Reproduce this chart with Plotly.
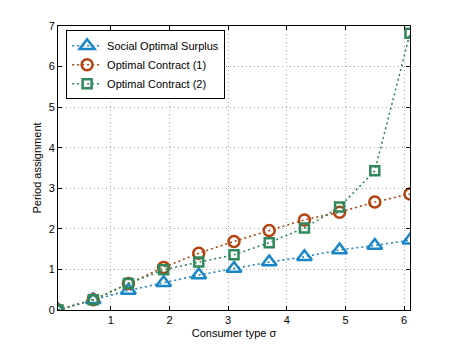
import plotly.graph_objects as go

x_vals = [0.1, 0.7, 1.3, 1.9, 2.5, 3.1, 3.7, 4.3, 4.9, 5.5, 6.1]
social_optimal = [0.0, 0.25, 0.48, 0.67, 0.86, 1.02, 1.18, 1.31, 1.48, 1.59, 1.72]
contract_1 = [0.0, 0.25, 0.65, 1.05, 1.40, 1.69, 1.96, 2.22, 2.41, 2.66, 2.86]
contract_2 = [0.0, 0.25, 0.65, 0.99, 1.18, 1.36, 1.66, 2.02, 2.54, 3.43, 6.82]

x_ticks = [1, 2, 3, 4, 5, 6]
y_ticks = [0, 1, 2, 3, 4, 5, 6, 7]

series = [
    ("Social Optimal Surplus", social_optimal, "#1a86c8", "triangle-up-open", 13),
    ("Optimal Contract (1)", contract_1, "#b5420e", "circle-open", 11),
    ("Optimal Contract (2)", contract_2, "#2e8a5c", "square-open", 9),
]

fig = go.Figure()
for name, ys, color, sym, size in series:
    fig.add_trace(go.Scatter(
        x=x_vals, y=ys, name=name, mode="lines+markers",
        line=dict(color=color, width=1.6, dash="2px,3px"),
        marker=dict(symbol=sym, size=size, color=color, line=dict(color=color, width=2.5)),
    ))

axis_common = dict(
    showline=True, linecolor="black", linewidth=1, mirror="allticks",
    ticks="inside", ticklen=4, tickcolor="black",
    showgrid=True, gridcolor="#a8a8a8", griddash="1px,3px", gridwidth=1,
    zeroline=False,
    tickfont=dict(family="Liberation Sans, Arial", size=11, color="black"),
)

fig.update_layout(
    width=452, height=349,
    margin=dict(l=50, r=50, t=18, b=47),
    paper_bgcolor="white", plot_bgcolor="white",
    font=dict(family="Liberation Sans, Arial", size=11, color="black"),
    xaxis=dict(range=[0.1, 6.1], tickvals=x_ticks,
               title=dict(text="Consumer type σ", font=dict(size=11), standoff=4),
               **axis_common),
    yaxis=dict(range=[-0.0005, 7.0005], tickvals=y_ticks,
               title=dict(text="Period assignment", font=dict(size=11), standoff=4),
               **axis_common),
    legend=dict(x=0.023, y=0.985, xanchor="left", yanchor="top",
                bgcolor="white", bordercolor="black", borderwidth=1,
                font=dict(size=11), tracegroupgap=0, itemwidth=30),
    showlegend=True,
)

fig.write_html("out.html")
